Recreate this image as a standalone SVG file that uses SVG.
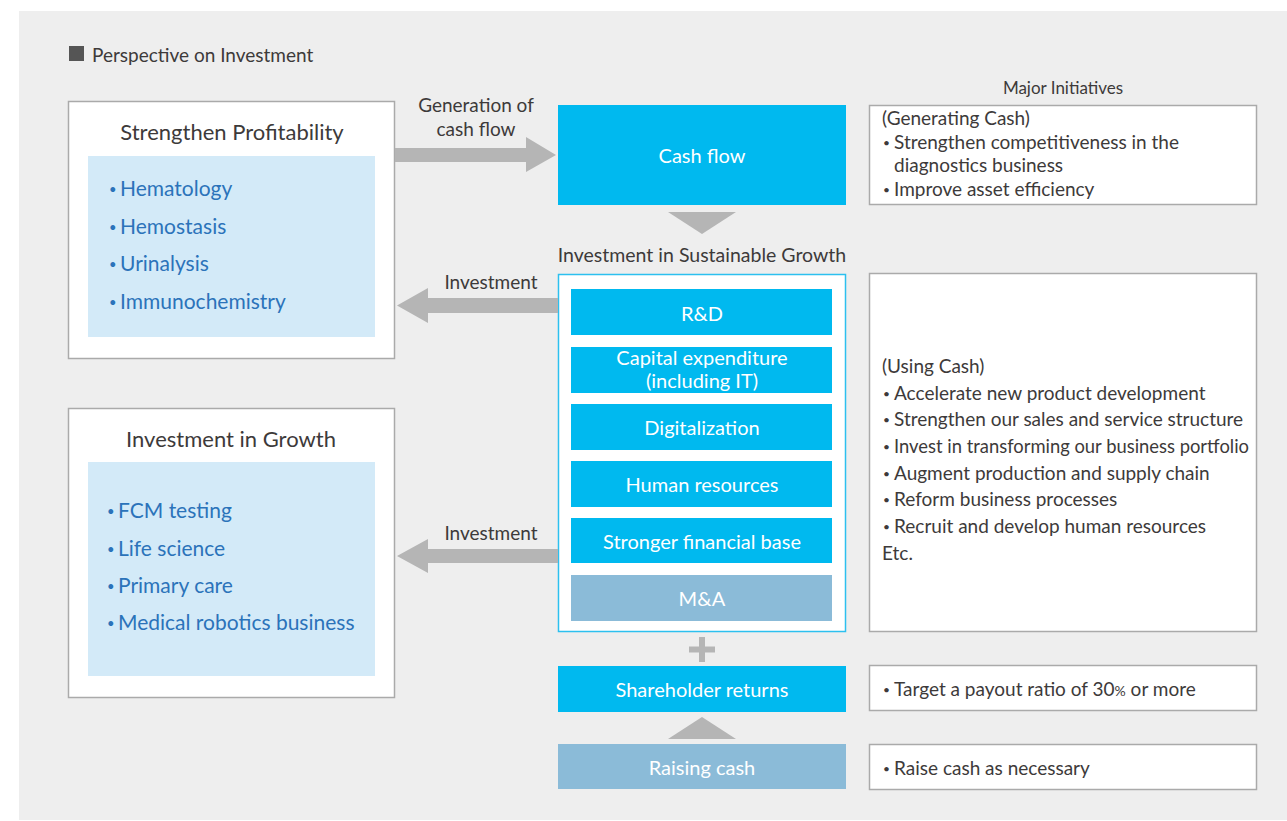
<svg xmlns="http://www.w3.org/2000/svg" width="1287" height="821" viewBox="0 0 1287 821">
<style>
text{font-family:Lato,"Noto Sans","Liberation Sans",sans-serif;fill:#3d3a3a}
.box{fill:#fff;stroke:#aaaaaa;stroke-width:1.5}
.inner{fill:#d3eaf8}
.item{fill:#2b73ba;font-size:21px}
.item .b{font-size:13px}
.ttl{font-size:22px;text-anchor:middle}
.cyan{fill:#00b9ef}
.pale{fill:#8bbbd8}
.wt{fill:#fff;font-size:20px;text-anchor:middle}
.arr{fill:#b5b5b5}
.lbl{font-size:19px;text-anchor:middle}
.rt{font-size:19px}
.rt .b{font-size:12px}
</style>
<rect x="19" y="11" width="1268" height="809" fill="#eeeeee"/>
<g id="title">
<rect x="69" y="46" width="15" height="15" fill="#555555"/>
<text x="92" y="62" font-size="19">Perspective on Investment</text>
</g>
<g id="strengthen-profitability">
<rect class="box" x="68.5" y="101.5" width="326" height="257"/>
<text class="ttl" x="232" y="140">Strengthen Profitability</text>
<rect class="inner" x="88" y="156" width="287" height="181"/>
<text class="item" x="109" y="196"><tspan class="b" dy="-2">•</tspan><tspan x="120" dy="2">Hematology</tspan></text>
<text class="item" x="109" y="233.5"><tspan class="b" dy="-2">•</tspan><tspan x="120" dy="2">Hemostasis</tspan></text>
<text class="item" x="109" y="271"><tspan class="b" dy="-2">•</tspan><tspan x="120" dy="2">Urinalysis</tspan></text>
<text class="item" x="109" y="308.5"><tspan class="b" dy="-2">•</tspan><tspan x="120" dy="2">Immunochemistry</tspan></text>
</g>
<g id="investment-in-growth">
<rect class="box" x="68.5" y="408.5" width="326" height="289"/>
<text class="ttl" x="231" y="447">Investment in Growth</text>
<rect class="inner" x="88" y="462" width="287" height="214"/>
<text class="item" x="107" y="518"><tspan class="b" dy="-2">•</tspan><tspan x="118" dy="2">FCM testing</tspan></text>
<text class="item" x="107" y="556"><tspan class="b" dy="-2">•</tspan><tspan x="118" dy="2">Life science</tspan></text>
<text class="item" x="107" y="593"><tspan class="b" dy="-2">•</tspan><tspan x="118" dy="2">Primary care</tspan></text>
<text class="item" x="107" y="630"><tspan class="b" dy="-2">•</tspan><tspan x="118" dy="2">Medical robotics business</tspan></text>
</g>
<g id="cash-flow">
<rect class="cyan" x="558" y="105" width="288" height="100"/>
<text class="wt" x="702" y="163">Cash flow</text>
</g>
<g id="sustainable-growth">
<text x="702" y="262" font-size="19.5" text-anchor="middle">Investment in Sustainable Growth</text>
<rect x="558.5" y="274.5" width="287" height="357" fill="#fff" stroke="#2cc0ef" stroke-width="1.5"/>
<rect class="cyan" x="571" y="289" width="261" height="46"/>
<text class="wt" x="702" y="321">R&amp;D</text>
<rect class="cyan" x="571" y="347" width="261" height="46"/>
<text class="wt" x="702" y="365" font-size="18.5">Capital expenditure</text>
<text class="wt" x="702" y="387.5" font-size="18.5">(including IT)</text>
<rect class="cyan" x="571" y="404" width="261" height="46"/>
<text class="wt" x="702" y="435">Digitalization</text>
<rect class="cyan" x="571" y="461" width="261" height="46"/>
<text class="wt" x="702" y="492">Human resources</text>
<rect class="cyan" x="571" y="518" width="261" height="45"/>
<text class="wt" x="702" y="549">Stronger financial base</text>
<rect class="pale" x="571" y="575" width="261" height="46"/>
<text class="wt" x="702" y="606">M&amp;A</text>
</g>
<g id="shareholder-returns">
<rect class="cyan" x="558" y="666" width="288" height="46"/>
<text class="wt" x="702" y="697">Shareholder returns</text>
</g>
<g id="raising-cash">
<rect class="pale" x="558" y="744" width="288" height="45"/>
<text class="wt" x="702" y="775">Raising cash</text>
</g>
<g id="major-initiatives">
<text x="1063" y="94" font-size="17" text-anchor="middle">Major Initiatives</text>
</g>
<g id="generating-cash">
<rect class="box" x="869.5" y="105.5" width="387" height="99"/>
<text class="rt" x="882" y="125">(Generating Cash)</text>
<text class="rt" x="883" y="148.5"><tspan class="b" dy="-2">•</tspan><tspan x="894" dy="2">Strengthen competitiveness in the</tspan></text>
<text class="rt" x="894" y="172">diagnostics business</text>
<text class="rt" x="883" y="195.5"><tspan class="b" dy="-2">•</tspan><tspan x="894" dy="2">Improve asset efficiency</tspan></text>
</g>
<g id="using-cash">
<rect class="box" x="869.5" y="273.5" width="387" height="358"/>
<text class="rt" x="882" y="373">(Using Cash)</text>
<text class="rt" x="883" y="400"><tspan class="b" dy="-2">•</tspan><tspan x="894" dy="2">Accelerate new product development</tspan></text>
<text class="rt" x="883" y="426"><tspan class="b" dy="-2">•</tspan><tspan x="894" dy="2">Strengthen our sales and service structure</tspan></text>
<text class="rt" x="883" y="453"><tspan class="b" dy="-2">•</tspan><tspan x="894" dy="2" textLength="355" lengthAdjust="spacingAndGlyphs">Invest in transforming our business portfolio</tspan></text>
<text class="rt" x="883" y="480"><tspan class="b" dy="-2">•</tspan><tspan x="894" dy="2">Augment production and supply chain</tspan></text>
<text class="rt" x="883" y="506"><tspan class="b" dy="-2">•</tspan><tspan x="894" dy="2">Reform business processes</tspan></text>
<text class="rt" x="883" y="533"><tspan class="b" dy="-2">•</tspan><tspan x="894" dy="2">Recruit and develop human resources</tspan></text>
<text class="rt" x="882" y="560">Etc.</text>
</g>
<g id="payout">
<rect class="box" x="869.5" y="665.5" width="387" height="45"/>
<text class="rt" x="883" y="696"><tspan class="b" dy="-2">•</tspan><tspan x="894" dy="2">Target a payout ratio of 30</tspan><tspan font-size="14">%</tspan> or more</text>
</g>
<g id="raise">
<rect class="box" x="869.5" y="744.5" width="387" height="45"/>
<text class="rt" x="883" y="775"><tspan class="b" dy="-2">•</tspan><tspan x="894" dy="2">Raise cash as necessary</tspan></text>
</g>
<g id="connectors">
<polygon class="arr" points="395,148 526,148 526,137 556,155 526,172 526,162 395,162"/>
<text class="lbl" x="476" y="112">Generation of</text>
<text class="lbl" x="476" y="136">cash flow</text>
<polygon class="arr" points="668,212 736,212 702,234"/>
<polygon class="arr" points="558,298 428,298 428,288 397,305.5 428,323 428,313 558,313"/>
<text class="lbl" x="491" y="289">Investment</text>
<polygon class="arr" points="558,549 428,549 428,539 397,556 428,573 428,563 558,563"/>
<text class="lbl" x="491" y="540">Investment</text>
<polygon class="arr" points="699,637 705,637 705,646.5 715,646.5 715,652.5 705,652.5 705,662 699,662 699,652.5 689,652.5 689,646.5 699,646.5"/>
<polygon class="arr" points="668,739 736,739 702,717"/>
</g>
</svg>
